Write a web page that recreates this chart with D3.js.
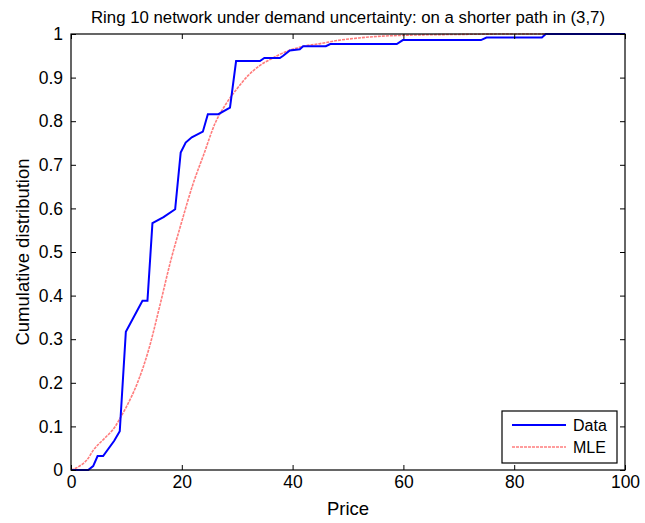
<!DOCTYPE html>
<html>
<head>
<meta charset="utf-8">
<script src="https://cdn.jsdelivr.net/npm/d3@7"></script>
<style>
  body { margin: 0; background: #fff; }
  text { font-family: "Liberation Sans", Arial, sans-serif; fill: #000; }
</style>
</head>
<body>
<div id="chart"></div>
<script>
const dataPrice = [0, 3.1, 4.0, 4.8, 5.8, 7.8, 8.8, 9.9, 12.9, 13.8, 14.7, 16.7, 18.8, 19.8, 20.7, 21.8, 23.8, 24.7, 26.6, 28.7, 29.8, 34.1, 34.9, 37.7, 38.3, 39.5, 41.3, 41.9, 46.0, 46.8, 58.8, 59.9, 74.0, 75.0, 85.0, 85.7, 100];
const dataCdf = [0, 0, 0.009, 0.032, 0.032, 0.067, 0.089, 0.317, 0.388, 0.388, 0.566, 0.580, 0.598, 0.728, 0.751, 0.763, 0.776, 0.816, 0.816, 0.831, 0.938, 0.938, 0.945, 0.945, 0.950, 0.962, 0.965, 0.972, 0.972, 0.977, 0.977, 0.986, 0.986, 0.992, 0.992, 1.0, 1.0];

// fitted MLE curve
const mlePrice = [0, 1, 2, 3, 4, 6, 8, 9, 10, 12, 14, 16, 18, 20, 22, 24, 26, 28, 30, 32, 34, 36, 38, 40, 42, 45, 48, 52, 56, 60, 70, 80, 100];
const mleCdf = [0, 0.005, 0.013, 0.025, 0.045, 0.072, 0.10, 0.122, 0.145, 0.20, 0.275, 0.375, 0.48, 0.57, 0.655, 0.725, 0.795, 0.84, 0.875, 0.905, 0.927, 0.942, 0.955, 0.965, 0.972, 0.978, 0.985, 0.991, 0.995, 0.997, 0.999, 1.0, 1.0];

const xTicks = [0, 20, 40, 60, 80, 100];
const yTicks = [0, 0.1, 0.2, 0.3, 0.4, 0.5, 0.6, 0.7, 0.8, 0.9, 1];
const title = "Ring 10 network under demand uncertainty: on a shorter path in (3,7)";
const legendNames = ["Data", "MLE"];

var W = 645, H = 523;
var margin = {top: 34, right: 20, bottom: 53, left: 71},
    width = W - margin.left - margin.right,
    height = H - margin.top - margin.bottom;

var svg = d3.select("#chart").append("svg")
    .attr("width", W)
    .attr("height", H);

var g = svg.append("g")
    .attr("transform", "translate(" + margin.left + "," + margin.top + ")");

var x = d3.scaleLinear().domain([0, 100]).range([0, width]);
var y = d3.scaleLinear().domain([0, 1]).range([height, 0]);

var line = d3.line()
    .x(function(d) { return x(d[0]); })
    .y(function(d) { return y(d[1]); });

var clip = g.append("clipPath").attr("id", "clip")
  .append("rect").attr("x", -1).attr("y", -2).attr("width", width + 2).attr("height", height + 3);

var plot = g.append("g").attr("clip-path", "url(#clip)");

// MLE curve
plot.append("path")
    .datum(d3.zip(mlePrice, mleCdf))
    .attr("fill", "none")
    .attr("stroke", "#ff5050")
    .attr("stroke-opacity", 0.75)
    .attr("stroke-width", 1.6)
    .attr("stroke-dasharray", "3,1")
    .attr("d", line.curve(d3.curveMonotoneX));

// Data staircase
plot.append("path")
    .datum(d3.zip(dataPrice, dataCdf))
    .attr("fill", "none")
    .attr("stroke", "#0000ff")
    .attr("stroke-width", 2)
    .attr("d", line.curve(d3.curveLinear));

// axes with inward ticks
var tickLen = 5;
var xAxis = g.append("g")
    .attr("transform", "translate(0," + height + ")")
    .call(d3.axisBottom(x).tickValues(xTicks).tickSizeInner(-tickLen).tickSizeOuter(0).tickPadding(6));
var xTop = g.append("g")
    .call(d3.axisTop(x).tickValues(xTicks).tickSizeInner(-tickLen).tickSizeOuter(0).tickFormat(""));
var yAxis = g.append("g")
    .call(d3.axisLeft(y).tickValues(yTicks).tickSizeInner(-tickLen).tickSizeOuter(0).tickPadding(8)
      .tickFormat(function(d) { return d === 0 || d === 1 ? d3.format("d")(d) : d3.format(".1f")(d); }));
var yRight = g.append("g")
    .attr("transform", "translate(" + width + ",0)")
    .call(d3.axisRight(y).tickValues(yTicks).tickSizeInner(-tickLen).tickSizeOuter(0).tickFormat(""));

[xAxis, xTop, yAxis, yRight].forEach(function(a) {
  a.selectAll("path").remove();
  a.selectAll("line").attr("stroke", "#000");
  a.selectAll("text").attr("font-size", 17.5).attr("fill", "#000")
    .style("font-family", "'Liberation Sans', Arial, sans-serif");
});

// box
g.append("rect")
    .attr("width", width).attr("height", height)
    .attr("fill", "none").attr("stroke", "#000").attr("stroke-width", 1.2);

// title and labels
svg.append("text")
    .attr("x", margin.left + width / 2).attr("y", 23)
    .attr("text-anchor", "middle").attr("font-size", 16.8)
    .text(title);

svg.append("text")
    .attr("x", margin.left + width / 2).attr("y", 515)
    .attr("text-anchor", "middle").attr("font-size", 18.5)
    .text("Price");

svg.append("text")
    .attr("transform", "translate(29," + (margin.top + height / 2) + ") rotate(-90)")
    .attr("text-anchor", "middle").attr("font-size", 18.5)
    .text("Cumulative distribution");

// legend
var lg = g.append("g").attr("transform", "translate(" + (502 - margin.left) + "," + (411 - margin.top) + ")");
lg.append("rect").attr("width", 115).attr("height", 52)
    .attr("fill", "#fff").attr("stroke", "#000").attr("stroke-width", 1.2);
var styles = [
  {stroke: "#0000ff", width: 2, dash: null, opacity: 1},
  {stroke: "#ff5050", width: 1.6, dash: "3,1", opacity: 0.75}
];
legendNames.forEach(function(name, i) {
  var yy = 14 + i * 22;
  lg.append("line").attr("x1", 10).attr("x2", 64).attr("y1", yy).attr("y2", yy)
    .attr("stroke", styles[i].stroke).attr("stroke-width", styles[i].width)
    .attr("stroke-opacity", styles[i].opacity)
    .attr("stroke-dasharray", styles[i].dash);
  lg.append("text").attr("x", 71).attr("y", yy + 6).attr("font-size", 16).text(name);
});
</script>
</body>
</html>
